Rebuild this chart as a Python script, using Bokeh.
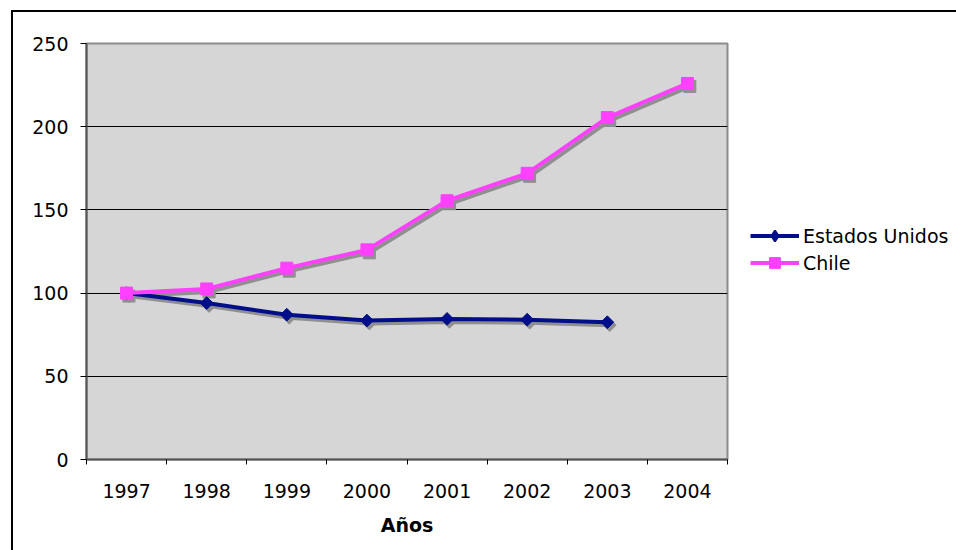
from bokeh.plotting import figure
from bokeh.layouts import row
from bokeh.models import (Range1d, FixedTicker, ColumnDataSource, Legend, LegendItem)
from bokeh.transform import dodge
from bokeh.embed import file_html
from bokeh.resources import INLINE

years = ["1997", "1998", "1999", "2000", "2001", "2002", "2003", "2004"]
chile = [100, 102.5, 115, 126, 155.5, 172, 205.5, 226]
usa = [100, 94, 87, 83.5, 84.5, 84, 82.5]
y_ticks = [0, 50, 100, 150, 200, 250]
x_label = "Años"
series_names = ["Estados Unidos", "Chile"]

FONT = "DejaVu Sans"
WP, HP = 719, 538
WL = 224

xs_chile = [i + 0.5 for i in range(len(chile))]
xs_usa = [i + 0.5 for i in range(len(usa))]
src_c = ColumnDataSource(dict(x=xs_chile, y=chile))
src_u = ColumnDataSource(dict(x=xs_usa, y=usa))

p = figure(width=WP, height=HP, output_backend="svg", toolbar_location=None,
           x_range=Range1d(0, len(years)), y_range=Range1d(0, 250),
           min_border_left=73, min_border_right=5, min_border_top=31,
           min_border_bottom=91)
p.background_fill_color = "#d6d6d6"
p.border_fill_color = "white"
p.outline_line_color = "#8c8c8c"
p.outline_line_width = 2

# x axis: labels at centres, tick marks at category boundaries
xt = FixedTicker(ticks=[i + 0.5 for i in range(len(years))],
                 minor_ticks=list(range(len(years) + 1)))
p.xaxis.ticker = xt
p.xaxis.major_label_overrides = {i + 0.5: y for i, y in enumerate(years)}
p.xaxis.major_tick_line_color = None
p.xaxis.major_tick_out = 0
p.xaxis.major_tick_in = 0
p.xaxis.minor_tick_line_color = "black"
p.xaxis.minor_tick_out = 5
p.xaxis.minor_tick_in = 0
p.xaxis.major_label_standoff = 19
p.xaxis.axis_label = x_label
p.xaxis.axis_label_text_font_style = "bold"
p.xaxis.axis_label_standoff = 13

p.yaxis.ticker = FixedTicker(ticks=y_ticks, minor_ticks=[])
p.yaxis.major_tick_out = 6
p.yaxis.major_tick_in = 0
p.yaxis.major_tick_line_color = "black"
p.yaxis.major_label_standoff = 12

for ax in (p.xaxis, p.yaxis):
    ax.axis_line_color = "#555555"
    ax.axis_line_width = 2
    ax.major_label_text_font = FONT
    ax.major_label_text_font_size = "19px"
    ax.major_label_text_color = "black"
    ax.axis_label_text_font = FONT
    ax.axis_label_text_font_size = "19px"
    ax.axis_label_text_color = "black"

p.xgrid.grid_line_color = None
p.ygrid.ticker = FixedTicker(ticks=y_ticks)
p.ygrid.grid_line_color = "black"
p.ygrid.grid_line_width = 1

SH = "#8f8f8f"
DX, DY = 0.03, -1.8
US_C = "#000e8a"
CH_C = "#ff40ff"
DIAMOND = 0.785398

# shadows
for src, sz, ang in ((src_u, 9, DIAMOND), (src_c, 12, 0)):
    p.line(dodge("x", DX, range=p.x_range), dodge("y", DY, range=p.y_range),
           source=src, line_color=SH, line_width=4)
    p.scatter(dodge("x", DX, range=p.x_range), dodge("y", DY, range=p.y_range),
              source=src, marker="square", size=sz, angle=ang, fill_color=SH, line_color=SH)

p.line("x", "y", source=src_u, line_color=US_C, line_width=4)
p.scatter("x", "y", source=src_u, marker="square", size=9, angle=DIAMOND,
          fill_color=US_C, line_color=US_C)
p.line("x", "y", source=src_c, line_color=CH_C, line_width=4)
p.scatter("x", "y", source=src_c, marker="square", size=12,
          fill_color=CH_C, line_color=CH_C)

# legend panel (its renderers share the data but lie outside this panel's ranges)
q = figure(width=WL, height=HP, output_backend="svg", toolbar_location=None,
           x_range=Range1d(0, 1), y_range=Range1d(0, 1),
           x_axis_type=None, y_axis_type=None,
           min_border_left=0, min_border_right=0, min_border_top=0, min_border_bottom=0)
q.outline_line_color = None
q.background_fill_color = "white"
q.border_fill_color = "white"
q.grid.visible = False
lu = q.line("x", "y", source=src_u, line_color=US_C, line_width=4)
mu = q.scatter("x", "y", source=src_u, marker="diamond", size=16,
               fill_color=US_C, line_color=US_C, line_width=2)
lc = q.line("x", "y", source=src_c, line_color=CH_C, line_width=4)
mc = q.scatter("x", "y", source=src_c, marker="square", size=12,
               fill_color=CH_C, line_color=CH_C)

legend = Legend(items=[LegendItem(label=series_names[0], renderers=[lu, mu]),
                       LegendItem(label=series_names[1], renderers=[lc, mc])],
                location=(18, 183))
legend.border_line_color = None
legend.background_fill_alpha = 0
legend.padding = 0
legend.margin = 0
legend.spacing = 0
legend.glyph_width = 49
legend.glyph_height = 27
legend.label_height = 27
legend.label_standoff = 4
legend.label_text_font = FONT
legend.label_text_font_size = "19px"
legend.label_text_color = "black"
q.add_layout(legend)

layout = row(p, q, spacing=0)
layout.margin = (10, 0, 0, 11)
layout.styles = {"border-left": "2px solid black", "border-top": "2px solid black"}

open("out.html", "w").write(file_html(layout, INLINE))
